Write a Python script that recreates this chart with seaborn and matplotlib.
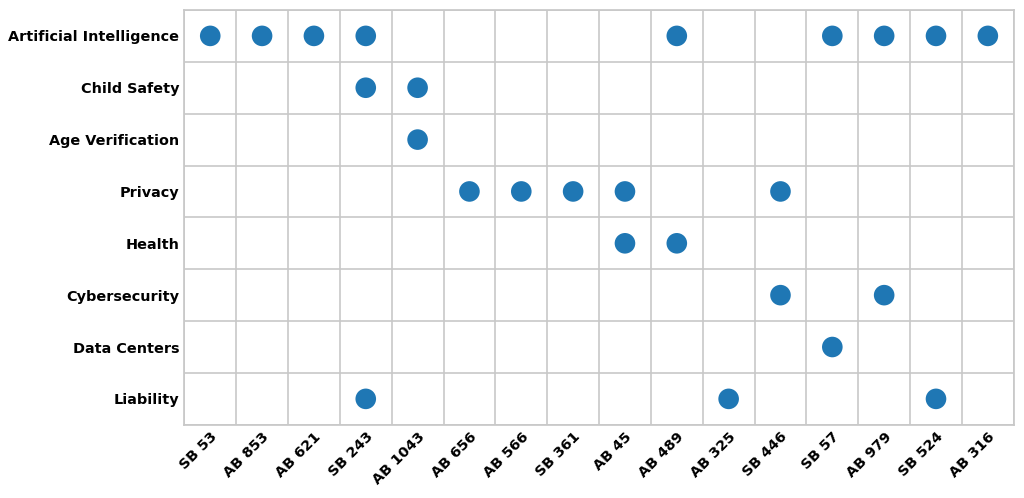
import matplotlib
matplotlib.use("Agg")
import matplotlib.pyplot as plt
import numpy as np
import pandas as pd
import seaborn as sns

# Bills along the x axis, topics along the y axis
bills = ["SB 53", "AB 853", "AB 621", "SB 243", "AB 1043", "AB 656", "AB 566",
         "SB 361", "AB 45", "AB 489", "AB 325", "SB 446", "SB 57", "AB 979",
         "SB 524", "AB 316"]
topics = ["Artificial Intelligence", "Child Safety", "Age Verification", "Privacy",
          "Health", "Cybersecurity", "Data Centers", "Liability"]

# Which bills touch each topic
ai_bills = ["SB 53", "AB 853", "AB 621", "SB 243", "AB 489", "SB 57", "AB 979", "SB 524", "AB 316"]
child_safety_bills = ["SB 243", "AB 1043"]
age_verification_bills = ["AB 1043"]
privacy_bills = ["AB 656", "AB 566", "SB 361", "AB 45", "SB 446"]
health_bills = ["AB 45", "AB 489"]
cybersecurity_bills = ["SB 446", "AB 979"]
data_center_bills = ["SB 57"]
liability_bills = ["SB 243", "AB 325", "SB 524"]

topic_bills = [ai_bills, child_safety_bills, age_verification_bills, privacy_bills,
               health_bills, cybersecurity_bills, data_center_bills, liability_bills]

rows = []
for topic, blist in zip(topics, topic_bills):
    for b in blist:
        rows.append({"bill": b, "topic": topic})
df = pd.DataFrame(rows)
df["x"] = df["bill"].map({b: i for i, b in enumerate(bills)})
df["y"] = df["topic"].map({t: i for i, t in enumerate(topics)})

sns.set_theme(style="whitegrid")
plt.rcParams["font.family"] = ["DejaVu Sans"]

fig, ax = plt.subplots(figsize=(10.24, 4.98), dpi=100)
sns.scatterplot(data=df, x="x", y="y", s=220, color="#1f77b4", edgecolor="none", ax=ax, zorder=3)

ax.set_xlim(-0.5, len(bills) - 0.5)
ax.set_ylim(len(topics) - 0.5, -0.5)
ax.set_xticks(np.arange(len(bills)))
ax.set_xticklabels(bills, rotation=45, ha="right", rotation_mode="anchor",
                   fontsize=10.4, fontweight="bold", color="black")
ax.set_yticks(np.arange(len(topics)))
ax.set_yticklabels(topics, fontsize=10.4, fontweight="bold", color="black")
ax.set_xticks(np.arange(len(bills) + 1) - 0.5, minor=True)
ax.set_yticks(np.arange(len(topics) + 1) - 0.5, minor=True)
ax.grid(False, which="major")
ax.grid(True, which="minor", color="#c8c8c8", linewidth=1.2)
ax.tick_params(which="both", length=0)
ax.set_xlabel("")
ax.set_ylabel("")
for s in ax.spines.values():
    s.set_color("#c8c8c8")

fig.subplots_adjust(left=0.18, right=0.99, top=0.98, bottom=0.147)
fig.savefig("out.png", dpi=100)
